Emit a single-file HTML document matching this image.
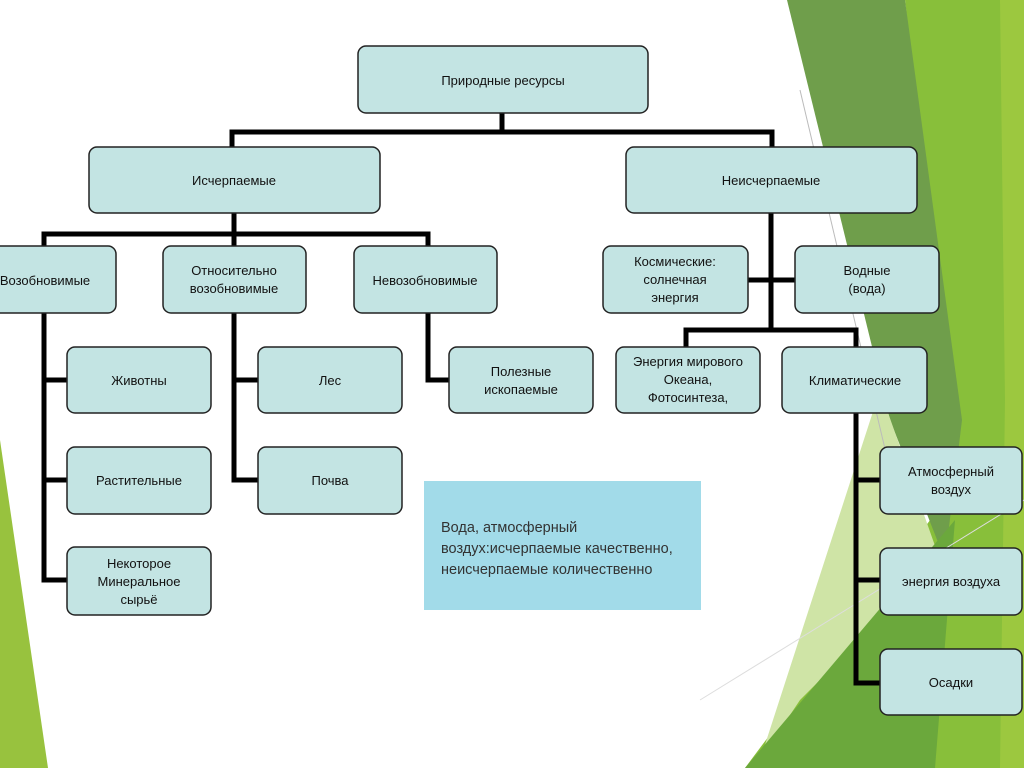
<!DOCTYPE html>
<html><head><meta charset="utf-8"><style>
html,body{margin:0;padding:0;width:1024px;height:768px;overflow:hidden;background:#fff}
svg{display:block}
text{font-family:"Liberation Sans","DejaVu Sans",sans-serif;font-size:13px;fill:#111}
.b{fill:#c3e4e3;stroke:#222;stroke-width:1.5}
.l{stroke:#000;stroke-width:5;fill:none;stroke-linecap:square}
</style></head><body>
<svg width="1024" height="768" viewBox="0 0 1024 768">
<!-- background greens -->
<polygon points="905,0 1024,0 1024,768 745,768 960,480" fill="#88bf3a"/>
<polygon points="1000,0 1024,0 1024,768 1000,768 1005,400" fill="#9cc83f"/>
<polygon points="787,0 905,0 962,420 945,560 890,420" fill="#6f9e4b"/>
<polygon points="880,390 940,560 800,700 760,760" fill="#cfe4a6"/>
<polygon points="745,768 955,520 935,768" fill="#6ba83c"/>
<polygon points="0,440 48,768 0,768" fill="#98c23e"/>
<line x1="800" y1="90" x2="890" y2="470" stroke="#bbb" stroke-width="1"/>
<line x1="700" y1="700" x2="1024" y2="500" stroke="#ddd" stroke-width="1"/>

<!-- connectors -->
<path class="l" d="M502,113 V132 M232,132 H772 M232,132 V147 M772,132 V147"/>
<path class="l" d="M234,213 V234 M44,234 H428 M44,234 V246 M234,234 V246 M428,234 V246"/>
<path class="l" d="M44,313 V580 H67 M44,380 H67 M44,480 H67"/>
<path class="l" d="M234,313 V480 H258 M234,380 H258"/>
<path class="l" d="M428,313 V380 H449"/>
<path class="l" d="M771,213 V330 M748,280 H795 M686,330 H856 M686,330 V347 M856,330 V347"/>
<path class="l" d="M856,413 V683 H880 M856,480 H880 M856,580 H880"/>

<!-- boxes -->
<rect class="b" x="358" y="46" width="290" height="67" rx="8"/>
<text x="503" y="85" text-anchor="middle">Природные ресурсы</text>
<rect class="b" x="89" y="147" width="291" height="66" rx="8"/>
<text x="234" y="185" text-anchor="middle">Исчерпаемые</text>
<rect class="b" x="626" y="147" width="291" height="66" rx="8"/>
<text x="771" y="185" text-anchor="middle">Неисчерпаемые</text>

<rect class="b" x="-20" y="246" width="136" height="67" rx="8"/>
<text x="45" y="285" text-anchor="middle">Возобновимые</text>
<rect class="b" x="163" y="246" width="143" height="67" rx="8"/>
<text x="234" y="275" text-anchor="middle">Относительно</text>
<text x="234" y="293" text-anchor="middle">возобновимые</text>
<rect class="b" x="354" y="246" width="143" height="67" rx="8"/>
<text x="425" y="285" text-anchor="middle">Невозобновимые</text>

<rect class="b" x="67" y="347" width="144" height="66" rx="8"/>
<text x="139" y="385" text-anchor="middle">Животны</text>
<rect class="b" x="67" y="447" width="144" height="67" rx="8"/>
<text x="139" y="485" text-anchor="middle">Растительные</text>
<rect class="b" x="67" y="547" width="144" height="68" rx="8"/>
<text x="139" y="568" text-anchor="middle">Некоторое</text>
<text x="139" y="586" text-anchor="middle">Минеральное</text>
<text x="139" y="604" text-anchor="middle">сырьё</text>

<rect class="b" x="258" y="347" width="144" height="66" rx="8"/>
<text x="330" y="385" text-anchor="middle">Лес</text>
<rect class="b" x="258" y="447" width="144" height="67" rx="8"/>
<text x="330" y="485" text-anchor="middle">Почва</text>

<rect class="b" x="449" y="347" width="144" height="66" rx="8"/>
<text x="521" y="376" text-anchor="middle">Полезные</text>
<text x="521" y="394" text-anchor="middle">ископаемые</text>

<rect class="b" x="603" y="246" width="145" height="67" rx="8"/>
<text x="675" y="266" text-anchor="middle">Космические:</text>
<text x="675" y="284" text-anchor="middle">солнечная</text>
<text x="675" y="302" text-anchor="middle">энергия</text>
<rect class="b" x="795" y="246" width="144" height="67" rx="8"/>
<text x="867" y="275" text-anchor="middle">Водные</text>
<text x="867" y="293" text-anchor="middle">(вода)</text>

<rect class="b" x="616" y="347" width="144" height="66" rx="8"/>
<text x="688" y="366" text-anchor="middle">Энергия мирового</text>
<text x="688" y="384" text-anchor="middle">Океана,</text>
<text x="688" y="402" text-anchor="middle">Фотосинтеза,</text>
<rect class="b" x="782" y="347" width="145" height="66" rx="8"/>
<text x="855" y="385" text-anchor="middle">Климатические</text>

<rect class="b" x="880" y="447" width="142" height="67" rx="8"/>
<text x="951" y="476" text-anchor="middle">Атмосферный</text>
<text x="951" y="494" text-anchor="middle">воздух</text>
<rect class="b" x="880" y="548" width="142" height="67" rx="8"/>
<text x="951" y="586" text-anchor="middle">энергия воздуха</text>
<rect class="b" x="880" y="649" width="142" height="66" rx="8"/>
<text x="951" y="687" text-anchor="middle">Осадки</text>

<!-- note -->
<rect x="424" y="481" width="277" height="129" fill="#a2dbe9"/>
<text x="441" y="532" style="font-size:14.5px;fill:#333">Вода, атмосферный</text>
<text x="441" y="553" style="font-size:14.5px;fill:#333">воздух:исчерпаемые качественно,</text>
<text x="441" y="574" style="font-size:14.5px;fill:#333">неисчерпаемые количественно</text>
</svg>
</body></html>
